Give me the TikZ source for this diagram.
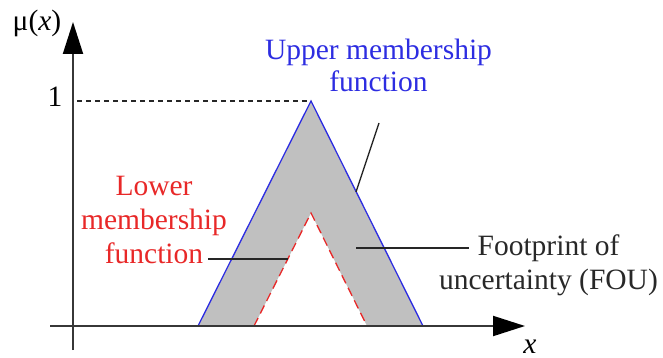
\documentclass[tikz,border=0pt]{standalone}
\usepackage{fontspec}
\setmainfont{Liberation Serif}
\usetikzlibrary{arrows.meta}

\definecolor{umfblue}{RGB}{45,45,225}
\definecolor{lmfred}{RGB}{232,40,40}
\definecolor{fougray}{RGB}{192,192,192}
\definecolor{axisgray}{RGB}{55,55,55}
\definecolor{textgray}{RGB}{40,40,40}

\begin{document}
\begin{tikzpicture}[x=1pt,y=-1pt,
  lbl/.style={font=\fontsize{29.5}{34}\selectfont, align=center, inner sep=0pt, anchor=base},
  axisline/.style={line width=2pt, draw=axisgray, -{Triangle[length=32pt,width=20pt,color=black]}},
  umfedge/.style={line width=1.3pt, draw=umfblue, line join=miter},
  lmfedge/.style={line width=1.3pt, draw=lmfred, dash pattern=on 9pt off 5pt},
  leader/.style={line width=1.4pt, draw=black!85},
  peakline/.style={line width=1.1pt, draw=black!85, dash pattern=on 5pt off 4pt}
]
\useasboundingbox (0,0) rectangle (663,358);

% axes end points
\coordinate (ybot) at (73,350);
\coordinate (ytop) at (73,22);
\coordinate (xleft) at (50,326);
\coordinate (xright) at (525,326);

% upper and lower membership triangles
\coordinate (upeak) at (311,101);
\coordinate (uleft) at (198,326);
\coordinate (uright) at (423,326);
\coordinate (lpeak) at (311,213);
\coordinate (lleft) at (254,326);
\coordinate (lright) at (367,326);
\coordinate (ymark) at (77,101);

% footprint of uncertainty
\fill[fougray] (uleft) -- (upeak) -- (uright) -- (lright) -- (lpeak) -- (lleft) -- cycle;
\draw[umfedge] (uleft) -- (upeak) -- (uright);
\draw[lmfedge] (lleft) -- (lpeak) -- (lright);
\draw[peakline] (ymark) -- (upeak);

% axes
\draw[axisline] (ybot) -- (ytop);
\draw[axisline] (xleft) -- (xright);

% labels (base anchor sits on the last line)
\node[lbl] (mu) at (37,31) {μ(\textit{x})};
\node[lbl] (xlab) at (530,353) {\textit{x}};
\node[lbl] (one) at (55,107) {1};
\node[lbl, text=umfblue, font=\fontsize{29.5}{32}\selectfont] (upper) at (378.5,92) {Upper membership\\function};
\node[lbl, text=lmfred] (lower) at (154,263) {Lower\\membership\\function};
\node[lbl, text=textgray] (fou) at (548.5,289) {Footprint of\\uncertainty (FOU)};

% leader lines
\coordinate (upperend) at (379,123);
\coordinate (upperedge) at (356,192);
\coordinate (lowerstart) at (208,259);
\coordinate (loweredge) at (288,259);
\coordinate (fouin) at (356,248);
\coordinate (fouend) at (469,248);
\draw[leader] (upperend) -- (upperedge);
\draw[leader] (lowerstart) -- (loweredge);
\draw[leader] (fouin) -- (fouend);
\end{tikzpicture}
\end{document}
